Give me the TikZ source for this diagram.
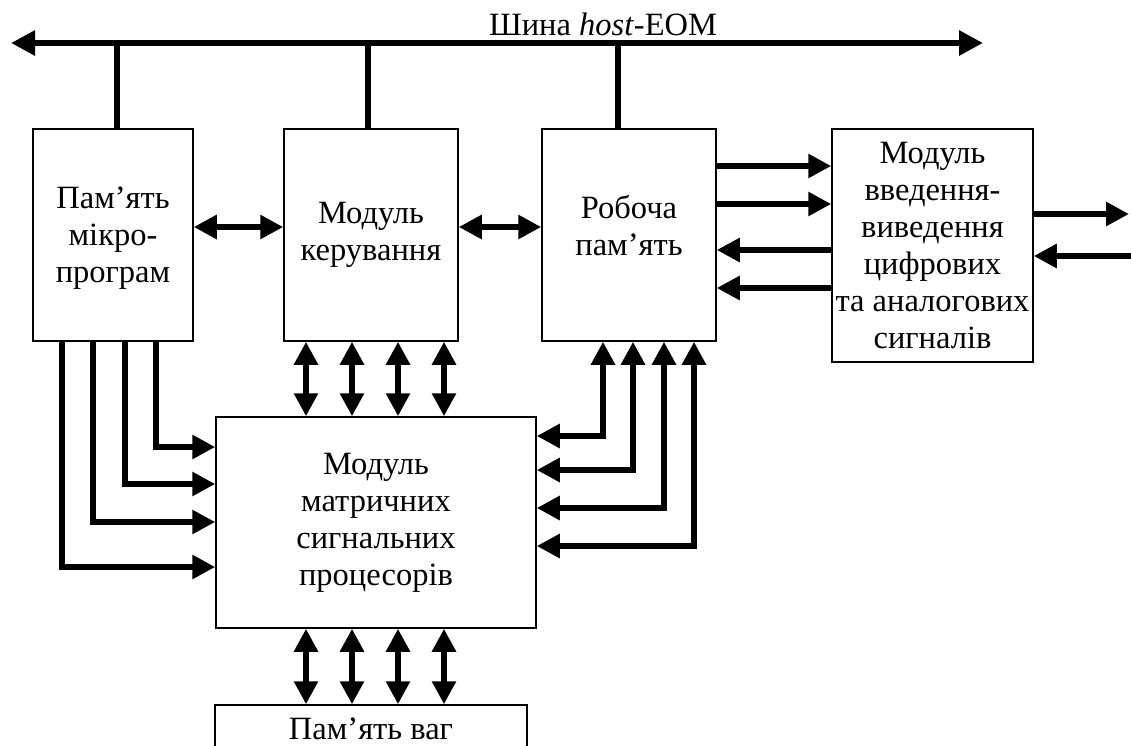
\documentclass[tikz,border=0pt]{standalone}
\usepackage{fontspec}
\setmainfont{Liberation Serif}
\usetikzlibrary{arrows.meta,calc}

\begin{document}
\begin{tikzpicture}[x=1pt,y=-1pt,font=\fontsize{32.5}{37}\selectfont,
    blk/.style={draw,line width=1.5pt,align=center,inner sep=0pt},
    wire/.style={line width=6pt},
    oneway/.style={wire,-{Triangle[length=23pt,width=23pt]}},
    twoway/.style={wire,{Triangle[length=23pt,width=23pt]}-{Triangle[length=23pt,width=23pt]}}]
  \clip (0,0) rectangle (1131,745);

  % blocks
  \node[blk,minimum width=160pt,minimum height=212pt,text depth=-9pt] (mpm) at (113,235) {Пам’ять\\мікро-\\програм};
  \node[blk,minimum width=174pt,minimum height=212pt] (ctrl) at (371,235) {Модуль\\керування};
  \node[blk,minimum width=174pt,minimum height=212pt,text depth=20pt] (wmem) at (629,235) {Робоча\\пам’ять};
  \node[blk,minimum width=201pt,minimum height=233pt] (io) at (932.5,245.5) {Модуль\\введення-\\виведення\\цифрових\\та аналогових\\сигналів};
  \node[blk,minimum width=320pt,minimum height=211pt] (dsp) at (376,522.5) {Модуль\\матричних\\сигнальних\\процесорів};
  \node[blk,minimum width=312pt,minimum height=48pt] (wts) at (371,729) {Пам’ять ваг};

  % host bus
  \node[anchor=base] (ttl) at (603,35) {Шина \textit{host}-ЕОМ};
  \coordinate (busL) at (11,43);
  \coordinate (busR) at (983,43);
  \draw[wire,{Triangle[length=24pt,width=24pt]}-{Triangle[length=24pt,width=24pt]}] (busL) -- (busR);
  \foreach \n/\xx in {mpm/117,ctrl/368,wmem/618}
    \draw[wire] (\n.north -| \xx,0) -- (busL -| \xx,0);

  % links between blocks
  \draw[twoway] (mpm.east |- 0,227) -- (ctrl.west |- 0,227);
  \draw[twoway] (ctrl.east |- 0,227) -- (wmem.west |- 0,227);
  \foreach \yy in {166,204}
    \draw[oneway] (wmem.east |- 0,\yy) -- (io.west |- 0,\yy);
  \foreach \yy in {250,288}
    \draw[oneway] (io.west |- 0,\yy) -- (wmem.east |- 0,\yy);

  % external i/o
  \coordinate (out) at (1129,214);
  \coordinate (in) at (1140,256);
  \draw[oneway] (io.east |- out) -- (out);
  \draw[oneway] (in) -- (io.east |- in);

  \foreach \xx in {306,352,398,444} {
    \draw[twoway] (ctrl.south -| \xx,0) -- (dsp.north -| \xx,0);
    \draw[twoway] (dsp.south -| \xx,0) -- (wts.north -| \xx,0);
  }
  \foreach \xx/\yy in {603/436,633/470,664/508,694/546}
    \draw[twoway] (wmem.south -| \xx,0) |- (dsp.east |- 0,\yy);
  \foreach \xx/\yy in {62/567,93/522,125/484,156/447}
    \draw[oneway] (mpm.south -| \xx,0) |- (dsp.west |- 0,\yy);
\end{tikzpicture}
\end{document}
